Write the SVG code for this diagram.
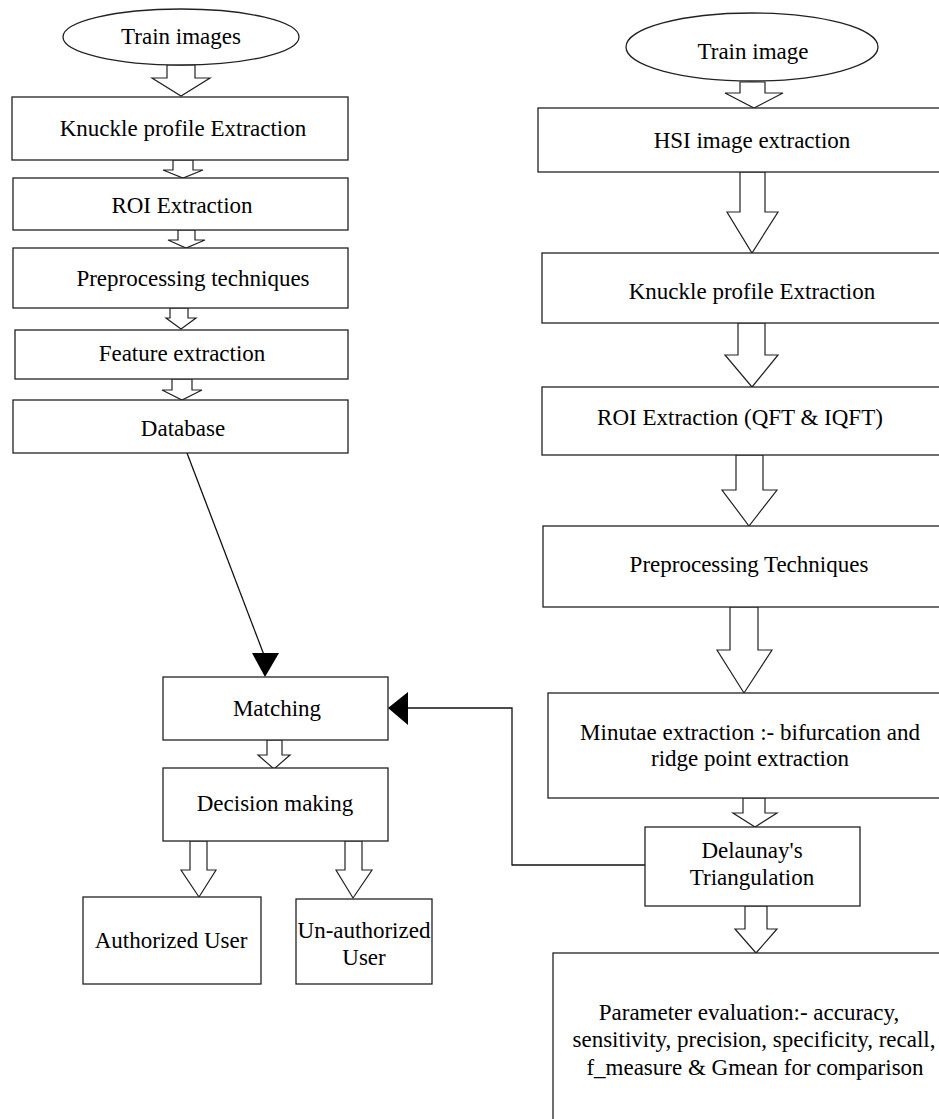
<svg xmlns="http://www.w3.org/2000/svg" width="939" height="1119" viewBox="0 0 939 1119">
<style>
.box{fill:#fff;stroke:#222;stroke-width:1.3}
.blk{fill:#fff;stroke:#222;stroke-width:1.2;stroke-linejoin:miter}
.ln{fill:none;stroke:#111;stroke-width:1.3}
.head{fill:#000;stroke:none}
text{font-family:"Liberation Serif","Times New Roman",serif;font-size:23px;fill:#000;text-anchor:middle}
</style>
<rect width="939" height="1119" fill="#fff"/>
<g id="connectors">
<polygon class="blk" points="167,65 195,65 195,78 210,78 181,96 152,78 167,78"/>
<polygon class="blk" points="173,160 193,160 193,170 203,170 183,178 163,170 173,170"/>
<polygon class="blk" points="178,230 195,230 195,240 205,240 186,248 168,240 178,240"/>
<polygon class="blk" points="170,308 188,308 188,318 196,318 181,329 166,318 170,318"/>
<polygon class="blk" points="172,379 192,379 192,390 202,390 182,400 162,390 172,390"/>
<polygon class="blk" points="740,82 765,82 765,93 783,93 754,108 725,93 740,93"/>
<polygon class="blk" points="740,172 765,172 765,212 778,212 752,253 727,212 740,212"/>
<polygon class="blk" points="738,323 765,323 765,355 778,355 752,387 725,355 738,355"/>
<polygon class="blk" points="736,455 763,455 763,490 777,490 749,526 722,490 736,490"/>
<polygon class="blk" points="730,607 758,607 758,650 772,650 744,693 717,650 730,650"/>
<polygon class="blk" points="743,798 765,798 765,813 777,813 755,827 733,813 743,813"/>
<polygon class="blk" points="745,906 767,906 767,929 777,929 756,953 735,929 745,929"/>
<polygon class="blk" points="267,740 282,740 282,755 290,755 274,769 258,755 267,755"/>
<polygon class="blk" points="190,841 207,841 207,870 216,870 199,897 181,870 190,870"/>
<polygon class="blk" points="345,841 362,841 362,870 372,870 353,898 336,870 345,870"/>
<line class="ln" x1="187" y1="453" x2="264" y2="655"/>
<polygon class="head" points="252,653 279,653 265,677"/>
<polyline class="ln" points="645,865 512,865 512,708 406,708"/>
<polygon class="head" points="408,692 408,725 388,708"/>
</g>
<g id="n-train-images"><ellipse class="box" cx="181" cy="37" rx="118" ry="28"/><text x="181" y="44">Train images</text></g>
<g id="n-knuckle-left"><rect class="box" x="12" y="97" width="336" height="63"/><text x="183" y="136">Knuckle profile Extraction</text></g>
<g id="n-roi-left"><rect class="box" x="13" y="178" width="335" height="52"/><text x="182" y="213">ROI Extraction</text></g>
<g id="n-preproc-left"><rect class="box" x="13" y="248" width="335" height="60"/><text x="193" y="286">Preprocessing techniques</text></g>
<g id="n-feature"><rect class="box" x="15" y="330" width="333" height="49"/><text x="182" y="361">Feature extraction</text></g>
<g id="n-database"><rect class="box" x="13" y="400" width="335" height="53"/><text x="183" y="436">Database</text></g>
<g id="n-matching"><rect class="box" x="163" y="677" width="225" height="63"/><text x="277" y="716">Matching</text></g>
<g id="n-decision"><rect class="box" x="163" y="768" width="225" height="73"/><text x="275" y="811">Decision making</text></g>
<g id="n-authorized"><rect class="box" x="83" y="897" width="178" height="87"/><text x="171" y="948">Authorized User</text></g>
<g id="n-unauthorized"><rect class="box" x="296" y="899" width="136" height="85"/><text x="364" y="938">Un-authorized</text><text x="364" y="965">User</text></g>
<g id="n-train-image"><ellipse class="box" cx="752" cy="47" rx="126" ry="34"/><text x="753" y="59">Train image</text></g>
<g id="n-hsi"><rect class="box" x="538" y="108" width="412" height="64"/><text x="752" y="148">HSI image extraction</text></g>
<g id="n-knuckle-right"><rect class="box" x="542" y="253" width="408" height="70"/><text x="752" y="299">Knuckle profile Extraction</text></g>
<g id="n-roi-right"><rect class="box" x="542" y="387" width="408" height="68"/><text x="740" y="425">ROI Extraction (QFT &amp; IQFT)</text></g>
<g id="n-preproc-right"><rect class="box" x="543" y="526" width="407" height="81"/><text x="749" y="572">Preprocessing Techniques</text></g>
<g id="n-minutae"><rect class="box" x="548" y="693" width="402" height="105"/><text x="750" y="740">Minutae extraction :- bifurcation and</text><text x="750" y="766">ridge point extraction</text></g>
<g id="n-delaunay"><rect class="box" x="645" y="827" width="215" height="79"/><text x="752" y="858">Delaunay's</text><text x="752" y="885">Triangulation</text></g>
<g id="n-parameter"><rect class="box" x="553" y="953" width="397" height="180"/><text x="749" y="1020">Parameter evaluation:- accuracy,</text><text x="754" y="1047">sensitivity, precision, specificity, recall,</text><text x="755" y="1075">f_measure &amp; Gmean for comparison</text></g>
</svg>
